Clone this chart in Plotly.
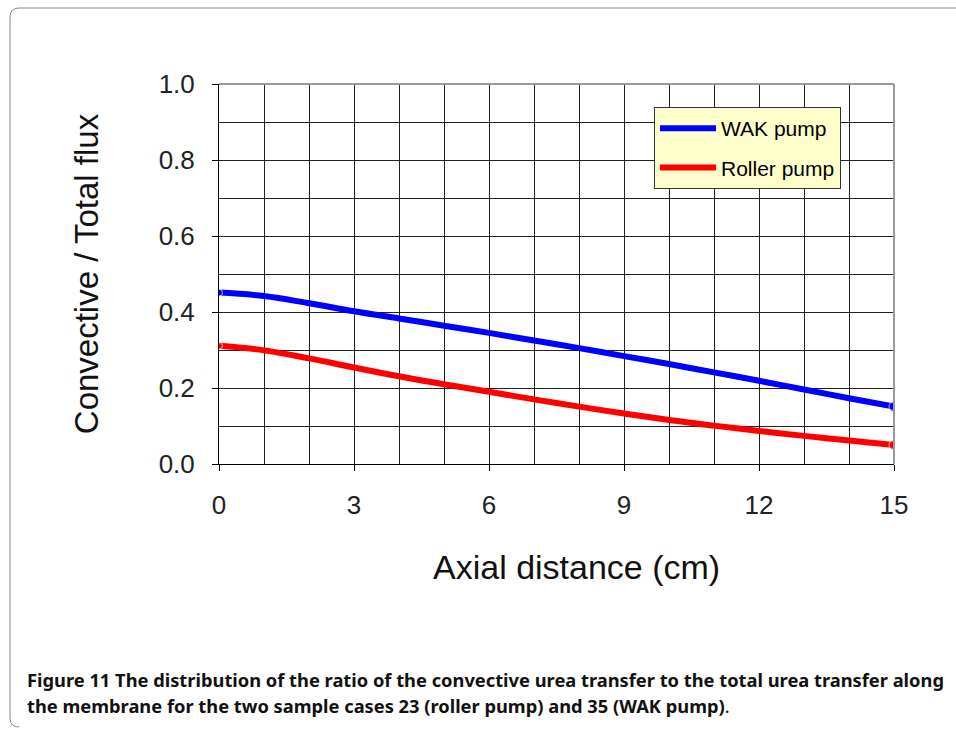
import plotly.graph_objects as go

# ---- data ----
axial_cm = [0, 1, 2, 3, 4, 5, 6, 7, 8, 9, 10, 11, 12, 13, 14, 15]
wak_pump = [0.451, 0.442, 0.423, 0.402, 0.383, 0.364, 0.345, 0.325, 0.305,
            0.284, 0.263, 0.241, 0.219, 0.196, 0.173, 0.151]
roller_pump = [0.311, 0.299, 0.278, 0.254, 0.231, 0.210, 0.190, 0.170, 0.151,
               0.133, 0.116, 0.101, 0.087, 0.074, 0.062, 0.050]
x_ticks = [0, 3, 6, 9, 12, 15]
y_ticks = [0.0, 0.2, 0.4, 0.6, 0.8, 1.0]
series_names = ["WAK pump", "Roller pump"]
x_title = "Axial distance (cm)"
y_title = "Convective / Total flux"
caption_line1 = "<b>Figure 11 The distribution of the ratio of the convective urea transfer to the total urea transfer along</b>"
caption_line2 = "<b>the membrane for the two sample cases 23 (roller pump) and 35 (WAK pump)</b>."

W, H = 956, 730
L, R, T, B = 219, 894, 84, 464
pw, ph = R - L, B - T


def px(xp):
    return (xp - L) / pw


def py(yp):
    return (B - yp) / ph


fig = go.Figure()
for name, ys, col in [(series_names[0], wak_pump, "#0000FF"), (series_names[1], roller_pump, "#FF0000")]:
    fig.add_trace(go.Scatter(x=axial_cm, y=ys, mode="lines", name=name,
                             line=dict(color=col, width=6, shape="spline", smoothing=1.2),
                             legendgroup=name))
    fig.add_trace(go.Scatter(x=[axial_cm[0], axial_cm[-1]], y=[ys[0], ys[-1]], mode="markers",
                             marker=dict(color=col, size=[7, 10]), showlegend=False,
                             hoverinfo="skip", legendgroup=name))

sans = "Liberation Sans, Arial, sans-serif"
tick_font = dict(family=sans, size=26, color="#222222")
title_font = dict(family=sans, size=33, color="#111111")

fig.update_xaxes(range=[0, 15], tickvals=x_ticks, ticks="outside", ticklen=6, tickcolor="#000",
                 showgrid=True, gridcolor="#222222", gridwidth=1,
                 minor=dict(dtick=1, tick0=0, showgrid=True, gridcolor="#222222", gridwidth=1),
                 showline=True, linecolor="#000", linewidth=1, zeroline=False,
                 tickfont=tick_font, ticklabelstandoff=12)
fig.update_yaxes(range=[0, 1], tickvals=y_ticks, tickformat=".1f", ticks="outside", ticklen=6,
                 tickcolor="#000",
                 showgrid=True, gridcolor="#222222", gridwidth=1,
                 minor=dict(dtick=0.1, tick0=0, showgrid=True, gridcolor="#222222", gridwidth=1),
                 showline=True, linecolor="#000", linewidth=1, zeroline=False,
                 tickfont=tick_font, ticklabelstandoff=12,
                 title=dict(text=y_title, font=title_font, standoff=50))

shapes = [
    dict(type="line", xref="paper", yref="paper", x0=0, x1=1, y0=1, y1=1,
         line=dict(color="#999999", width=2), layer="above"),
    dict(type="line", xref="paper", yref="paper", x0=1, x1=1, y0=0, y1=1,
         line=dict(color="#999999", width=2), layer="above"),
]
fx0, fy0, fy1, r = 10, 8, 727, 9
path = (f"M {px(W + 5)},{py(fy0)} L {px(fx0 + r)},{py(fy0)} "
        f"Q {px(fx0)},{py(fy0)} {px(fx0)},{py(fy0 + r)} "
        f"L {px(fx0)},{py(fy1 - r)} Q {px(fx0)},{py(fy1)} {px(fx0 + r)},{py(fy1)}")
shapes.append(dict(type="path", xref="paper", yref="paper", path=path,
                   line=dict(color="#8a8a8a", width=1), layer="below"))

cap_font = dict(family="Noto Sans, sans-serif", size=18.3, color="#111")
fig.update_layout(
    width=W, height=H,
    margin=dict(l=L, r=W - R, t=T, b=H - B, pad=0),
    paper_bgcolor="white", plot_bgcolor="white",
    shapes=shapes,
    legend=dict(x=px(654), y=py(107), xanchor="left", yanchor="top",
                bgcolor="#FFFFCC", bordercolor="#333333", borderwidth=1,
                font=dict(family=sans, size=21, color="#000"),
                tracegroupgap=9, itemwidth=56),
    annotations=[
        dict(xref="paper", yref="paper", x=px(576), y=py(567), xanchor="center",
             yanchor="middle", showarrow=False, text=x_title,
             font=dict(family=sans, size=34, color="#111111")),
        dict(xref="paper", yref="paper", x=px(25), y=py(679), xanchor="left",
             yanchor="middle", align="left", showarrow=False, text=caption_line1, font=cap_font),
        dict(xref="paper", yref="paper", x=px(25), y=py(705), xanchor="left",
             yanchor="middle", align="left", showarrow=False, text=caption_line2, font=cap_font),
    ],
)

fig.write_html("out.html")
